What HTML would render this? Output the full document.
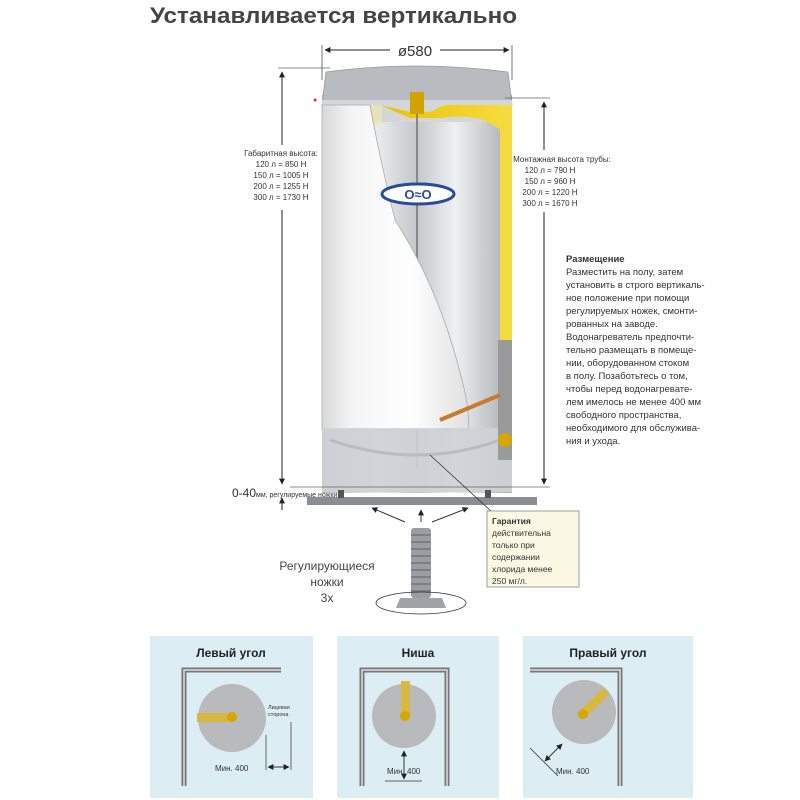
<!DOCTYPE html>
<html><head><meta charset="utf-8"><style>
body{margin:0;background:#fff;}
svg{display:block;font-family:"Liberation Sans",Arial,sans-serif;}
</style></head><body>
<svg width="800" height="800" viewBox="0 0 800 800" xmlns="http://www.w3.org/2000/svg">
<defs>
<linearGradient id="silver" x1="0" x2="1">
<stop offset="0" stop-color="#b8bcc0"/><stop offset="0.3" stop-color="#e8eaec"/><stop offset="0.5" stop-color="#c4c8cc"/><stop offset="0.7" stop-color="#eef0f2"/><stop offset="1" stop-color="#a8acb0"/></linearGradient>
<linearGradient id="white" x1="0" x2="1">
<stop offset="0" stop-color="#d8d8d8"/><stop offset="0.2" stop-color="#f4f4f4"/><stop offset="0.6" stop-color="#ffffff"/><stop offset="1" stop-color="#e0e0e0"/></linearGradient>
<linearGradient id="yel" x1="0" x2="1"><stop offset="0" stop-color="#e8c200"/><stop offset="1" stop-color="#f6dc40"/></linearGradient>
<marker id="ar" viewBox="0 0 10 10" refX="9" refY="5" markerWidth="6" markerHeight="6" orient="auto-start-reverse"><path d="M0,0L10,5L0,10z" fill="#222"/></marker>
</defs>
<text x="150" y="23" font-size="22" font-weight="bold" fill="#444" textLength="367" lengthAdjust="spacingAndGlyphs">Устанавливается вертикально</text>
<line x1="322" y1="45" x2="322" y2="80" stroke="#555" stroke-width="0.8"/>
<line x1="512" y1="45" x2="512" y2="80" stroke="#555" stroke-width="0.8"/>
<line x1="325" y1="50" x2="390" y2="50" stroke="#222" marker-start="url(#ar)"/>
<line x1="440" y1="50" x2="509" y2="50" stroke="#222" marker-end="url(#ar)"/>
<text x="415" y="56" font-size="15" fill="#333" text-anchor="middle">ø580</text>
<rect x="322" y="95" width="190" height="398" fill="url(#silver)"/>
<path d="M326,72 Q417,60 508,72 L512,105 L322,105 Z" fill="#b8bcc0" stroke="#999" stroke-width="0.8"/>
<rect x="322" y="100" width="190" height="22" fill="#d4d6d8"/>
<path d="M380,105 L410,112 L430,112 L445,105 L512,105 L512,340 L500,340 L500,130 Q480,112 440,118 L410,118 Z" fill="url(#yel)"/>
<rect x="322" y="105" width="60" height="20" fill="#efe6b0" opacity="0.7"/>
<rect x="410" y="92" width="14" height="22" fill="#d2a200"/>
<line x1="417" y1="114" x2="417" y2="470" stroke="#888" stroke-width="2"/>
<path d="M322,105 L370,105 Q380,160 395,220 Q440,290 462,380 Q470,410 468,430 L322,430 Z" fill="url(#white)" stroke="#aaa" stroke-width="0.8"/>
<rect x="322" y="428" width="190" height="64" fill="#ced2d6" opacity="0.9"/>
<path d="M330,440 Q417,470 500,440" stroke="#b8bcc0" fill="none" stroke-width="3"/>
<rect x="498" y="340" width="14" height="120" fill="#9a9a9a"/>
<circle cx="505" cy="440" r="7" fill="#d4a800"/>
<line x1="440" y1="420" x2="500" y2="395" stroke="#c87a30" stroke-width="4"/>
<ellipse cx="418" cy="194" rx="36" ry="10" fill="#fff" stroke="#2a4a9a" stroke-width="3"/>
<text x="418" y="199" font-size="13" font-weight="bold" fill="#2a4a9a" text-anchor="middle">O≈O</text>
<rect x="307" y="497" width="230" height="8" fill="#8a8e92"/>
<rect x="338" y="490" width="6" height="8" fill="#555"/><rect x="485" y="490" width="6" height="8" fill="#555"/>
<line x1="290" y1="487" x2="550" y2="487" stroke="#666" stroke-width="0.8"/>
<line x1="278" y1="68" x2="330" y2="68" stroke="#666" stroke-width="0.8"/>
<line x1="282" y1="72" x2="282" y2="145" stroke="#222" marker-start="url(#ar)"/>
<line x1="282" y1="210" x2="282" y2="484" stroke="#222" marker-end="url(#ar)"/>
<text font-size="8" fill="#333" text-anchor="middle"><tspan x="281" y="156">Габаритная высота:</tspan><tspan x="281" y="167">120 л =   850 Н</tspan><tspan x="281" y="178">150 л = 1005 Н</tspan><tspan x="281" y="189">200 л = 1255 Н</tspan><tspan x="281" y="200">300 л = 1730 Н</tspan></text>
<text x="313" y="102" font-size="7" fill="#c33">●</text>
<line x1="505" y1="98" x2="550" y2="98" stroke="#666" stroke-width="0.8"/>
<line x1="544" y1="102" x2="544" y2="150" stroke="#222" marker-start="url(#ar)"/>
<line x1="544" y1="212" x2="544" y2="484" stroke="#222" marker-end="url(#ar)"/>
<text font-size="8" fill="#333" text-anchor="middle"><tspan x="562" y="162">Монтажная высота трубы:</tspan><tspan x="550" y="173">120 л =   790 Н</tspan><tspan x="550" y="184">150 л =   960 Н</tspan><tspan x="550" y="195">200 л = 1220 Н</tspan><tspan x="550" y="206">300 л = 1670 Н</tspan></text>
<text font-size="9.5" fill="#333"><tspan x="566" y="262" font-weight="bold">Размещение</tspan><tspan x="566" y="275">Разместить на полу, затем</tspan><tspan x="566" y="288">установить в строго вертикаль-</tspan><tspan x="566" y="301">ное положение при помощи</tspan><tspan x="566" y="314">регулируемых ножек, смонти-</tspan><tspan x="566" y="327">рованных на заводе.</tspan><tspan x="566" y="340">Водонагреватель предпочти-</tspan><tspan x="566" y="353">тельно размещать в помеще-</tspan><tspan x="566" y="366">нии, оборудованном стоком</tspan><tspan x="566" y="379">в полу. Позаботьтесь о том,</tspan><tspan x="566" y="392">чтобы перед водонагревате-</tspan><tspan x="566" y="405">лем имелось не менее 400 мм</tspan><tspan x="566" y="418">свободного пространства,</tspan><tspan x="566" y="431">необходимого для обслужива-</tspan><tspan x="566" y="444">ния и ухода.</tspan></text>
<text x="232" y="497" font-size="12" fill="#333">0-40</text>
<text x="256" y="497" font-size="7" fill="#333">мм, регулируемые ножки</text>
<line x1="282" y1="498" x2="282" y2="510" stroke="#222" marker-start="url(#ar)"/>
<line x1="405" y1="522" x2="372" y2="508" stroke="#333" marker-end="url(#ar)"/>
<line x1="421" y1="522" x2="421" y2="510" stroke="#333" marker-end="url(#ar)"/>
<line x1="432" y1="522" x2="468" y2="508" stroke="#333" marker-end="url(#ar)"/>
<line x1="430" y1="455" x2="492" y2="512" stroke="#333" stroke-width="0.8"/>
<rect x="487" y="511" width="92" height="76" fill="#fbf8e4" stroke="#888" stroke-width="0.8"/>
<text font-size="8.5" fill="#333"><tspan x="492" y="524" font-weight="bold">Гарантия</tspan><tspan x="492" y="536">действительна</tspan><tspan x="492" y="548">только при</tspan><tspan x="492" y="560">содержании</tspan><tspan x="492" y="572">хлорида менее</tspan><tspan x="492" y="584">250 мг/л.</tspan></text>
<rect x="411" y="528" width="20" height="70" rx="3" fill="#9a9ea2"/>
<g stroke="#6a6e72" stroke-width="1.2"><line x1="411" y1="535" x2="431" y2="535"/><line x1="411" y1="542" x2="431" y2="542"/><line x1="411" y1="549" x2="431" y2="549"/><line x1="411" y1="556" x2="431" y2="556"/><line x1="411" y1="563" x2="431" y2="563"/><line x1="411" y1="570" x2="431" y2="570"/><line x1="411" y1="577" x2="431" y2="577"/><line x1="411" y1="584" x2="431" y2="584"/><line x1="411" y1="591" x2="431" y2="591"/></g>
<path d="M400,598 L442,598 L446,608 L396,608 Z" fill="#a0a4a8"/>
<ellipse cx="421" cy="603" rx="45" ry="11" fill="none" stroke="#333" stroke-width="0.8"/>
<text font-size="12" fill="#444" text-anchor="middle"><tspan x="327" y="570">Регулирующиеся</tspan><tspan x="327" y="586">ножки</tspan><tspan x="327" y="602">3х</tspan></text>
<g>
<rect x="150" y="636" width="163" height="162" fill="#dcedf4"/>
<rect x="337" y="636" width="162" height="162" fill="#dcedf4"/>
<rect x="523" y="636" width="170" height="162" fill="#dcedf4"/>
<text font-size="12" font-weight="bold" fill="#222" text-anchor="middle"><tspan x="231" y="657">Левый угол</tspan><tspan x="418" y="657">Ниша</tspan><tspan x="608" y="657">Правый угол</tspan></text>
<path d="M184,786 L184,670 L281,670" fill="none" stroke="#777" stroke-width="5"/>
<path d="M184,786 L184,670 L281,670" fill="none" stroke="#ddd" stroke-width="1.5"/>
<circle cx="232" cy="718" r="34" fill="#b8babc"/>
<rect x="197" y="713" width="36" height="9" fill="#d8b840"/><circle cx="232" cy="717" r="5" fill="#d4a800"/>
<line x1="266" y1="735" x2="266" y2="770" stroke="#333" stroke-width="0.7"/>
<line x1="291" y1="722" x2="291" y2="770" stroke="#333" stroke-width="0.7"/>
<line x1="268" y1="767" x2="289" y2="767" stroke="#333" marker-start="url(#ar)" marker-end="url(#ar)"/>
<text x="215" y="771" font-size="8" fill="#333">Мин. 400</text>
<text font-size="5.5" fill="#333"><tspan x="268" y="709">Лицевая</tspan><tspan x="268" y="716">сторона</tspan></text>
<path d="M362,786 L362,670 L447,670 L447,786" fill="none" stroke="#777" stroke-width="5"/>
<path d="M362,786 L362,670 L447,670 L447,786" fill="none" stroke="#ddd" stroke-width="1.5"/>
<circle cx="404" cy="716" r="32" fill="#b8babc"/>
<rect x="401" y="681" width="9" height="36" fill="#d8b840"/><circle cx="405" cy="716" r="5" fill="#d4a800"/>
<line x1="385" y1="781" x2="422" y2="781" stroke="#333" stroke-width="0.8"/>
<line x1="404" y1="751" x2="404" y2="779" stroke="#333" marker-start="url(#ar)" marker-end="url(#ar)"/>
<text x="387" y="774" font-size="8" fill="#333">Мин. 400</text>
<path d="M530,670 L620,670 L620,786" fill="none" stroke="#777" stroke-width="5"/>
<path d="M530,670 L620,670 L620,786" fill="none" stroke="#ddd" stroke-width="1.5"/>
<circle cx="584" cy="712" r="32" fill="#b8babc"/>
<line x1="583" y1="714" x2="606" y2="691" stroke="#d8b840" stroke-width="9"/><circle cx="583" cy="714" r="5" fill="#d4a800"/>
<line x1="530" y1="748" x2="558" y2="776" stroke="#333" stroke-width="0.8"/>
<line x1="545" y1="761" x2="562" y2="744" stroke="#333" marker-start="url(#ar)" marker-end="url(#ar)"/>
<text x="556" y="774" font-size="8" fill="#333">Мин. 400</text>
</g>
</svg>
</body></html>
